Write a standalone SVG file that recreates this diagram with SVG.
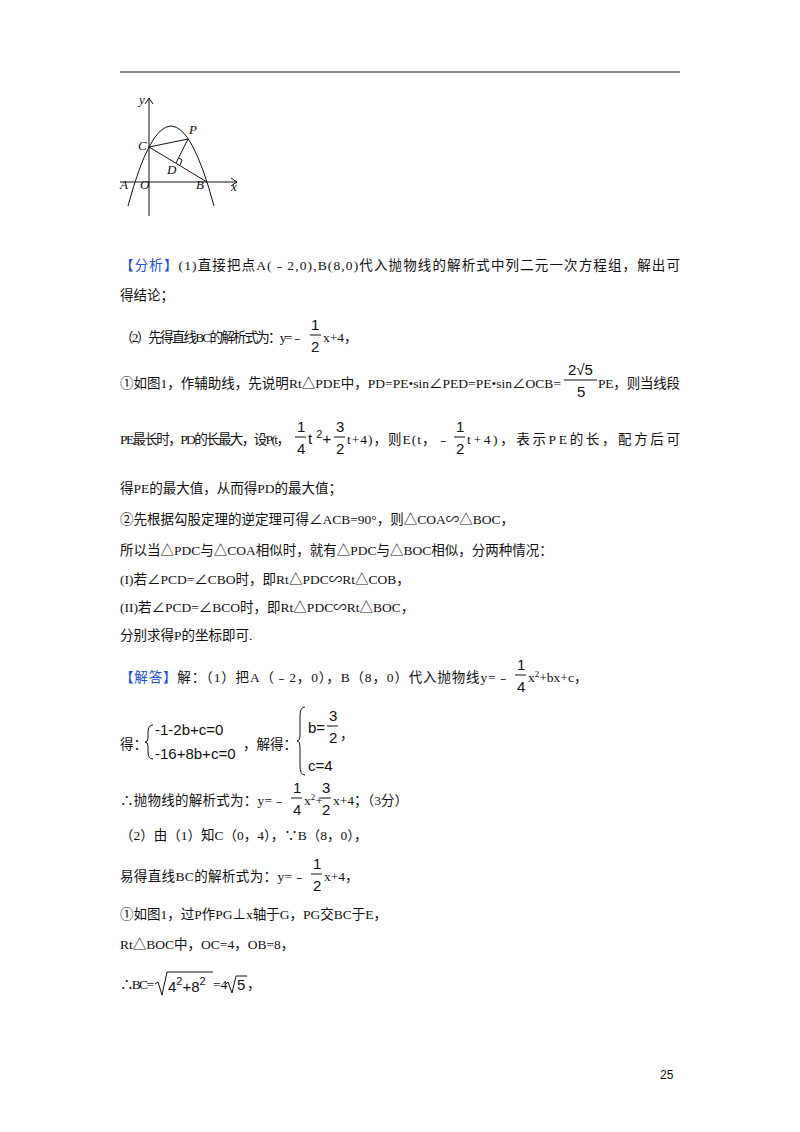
<svg xmlns="http://www.w3.org/2000/svg" width="800" height="1132" viewBox="0 0 800 1132">
<style>
text{font-family:"Liberation Serif","Noto Sans CJK SC",serif;font-size:13.5px;fill:#111}
.b{fill:#1a4fd6}
.m{font-family:"Liberation Sans","Noto Sans CJK SC",sans-serif;font-size:15px}
.g{font-family:"Liberation Serif",serif;font-style:italic;font-size:13px}
.f{stroke:#111;stroke-width:1;fill:none}
</style>
<rect width="800" height="1132" fill="#fff"/>
<line x1="120" y1="72" x2="680" y2="72" stroke="#111" stroke-width="1.2"/>
<g id="graph" class="f">
<line x1="149" y1="216" x2="149" y2="98"/>
<path d="M145,104 L149,98 L153,104"/>
<line x1="120" y1="182" x2="237" y2="182"/>
<path d="M231,178 L237,182 L231,186"/>
<path d="M128,206 Q171,46 214,206"/>
<line x1="149" y1="147" x2="207" y2="182"/>
<line x1="149" y1="147" x2="188" y2="139"/>
<line x1="188" y1="139" x2="176" y2="163"/>
<path d="M179,158 L182,160 L180,165"/>
</g>
<g id="graph-labels">
<text class="g" x="139" y="104">y</text>
<text class="g" x="231" y="191">x</text>
<text class="g" x="120" y="189">A</text>
<text class="g" x="140" y="189">O</text>
<text class="g" x="196" y="189">B</text>
<text class="g" x="138" y="150">C</text>
<text class="g" x="167" y="174">D</text>
<text class="g" x="189" y="134">P</text>
</g>
<text x="120" y="270" textLength="560"><tspan class="b">【分析】</tspan>(1)直接把点A(﹣2,0),B(8,0)代入抛物线的解析式中列二元一次方程组，解出可</text>
<text x="120" y="300">得结论；</text>
<text x="120" y="342" textLength="184">（2）先得直线BC的解析式为：y=﹣</text>
<text class="m" x="311" y="330">1</text><line x1="310" y1="335" x2="321" y2="335" stroke="#111"/><text class="m" x="311" y="352">2</text>
<text x="323" y="342">x+4，</text>
<text x="120" y="388" textLength="441">①如图1，作辅助线，先说明Rt△PDE中，PD=PE•sin∠PED=PE•sin∠OCB=</text>
<text class="m" x="568" y="375">2√5</text><line x1="564" y1="380" x2="597" y2="380" stroke="#111"/><text class="m" x="577" y="397">5</text>
<text x="598" y="388" textLength="82">PE，则当线段</text>
<text x="120" y="444" textLength="170">PE最长时，PD的长最大，设P(t，</text>
<text class="m" x="297" y="432">1</text><line x1="295" y1="437" x2="306" y2="437" stroke="#111"/><text class="m" x="297" y="454">4</text>
<text class="m" x="308" y="444">t <tspan dy="-6" font-size="11">2</tspan><tspan dy="6">+</tspan></text>
<text class="m" x="336" y="432">3</text><line x1="334" y1="437" x2="345" y2="437" stroke="#111"/><text class="m" x="336" y="454">2</text>
<text x="347" y="444" textLength="103">t+4)，则E(t，﹣</text>
<text class="m" x="456" y="432">1</text><line x1="454" y1="437" x2="465" y2="437" stroke="#111"/><text class="m" x="456" y="454">2</text>
<text x="467" y="444" textLength="213">t+4)，表示PE的长，配方后可</text>
<text x="120" y="493">得PE的最大值，从而得PD的最大值；</text>
<text x="120" y="524">②先根据勾股定理的逆定理可得∠ACB=90°，则△COA∽△BOC，</text>
<text x="120" y="555">所以当△PDC与△COA相似时，就有△PDC与△BOC相似，分两种情况：</text>
<text x="120" y="584">(I)若∠PCD=∠CBO时，即Rt△PDC∽Rt△COB，</text>
<text x="120" y="612">(II)若∠PCD=∠BCO时，即Rt△PDC∽Rt△BOC，</text>
<text x="120" y="640">分别求得P的坐标即可.</text>
<text x="120" y="682" textLength="390"><tspan class="b">【解答】</tspan>解：（1）把A（﹣2，0），B（8，0）代入抛物线y=﹣</text>
<text class="m" x="517" y="670">1</text><line x1="515" y1="675" x2="526" y2="675" stroke="#111"/><text class="m" x="517" y="692">4</text>
<text x="528" y="682">x<tspan dy="-5" font-size="9">2</tspan><tspan dy="5">+bx+c，</tspan></text>
<text x="120" y="749">得：</text>
<path class="f" d="M153,725 Q148,725 148,732 L148,738 Q148,742 145,742 Q148,742 148,746 L148,752 Q148,759 153,759"/>
<text class="m" x="155" y="735">-1-2b+c=0</text>
<text class="m" x="155" y="759">-16+8b+c=0</text>
<text x="243" y="749">，解得：</text>
<path class="f" d="M305,707 Q300,707 300,716 L300,734 Q300,741 297,741 Q300,741 300,748 L300,766 Q300,775 305,775"/>
<text class="m" x="308" y="733">b=</text>
<text class="m" x="329" y="721">3</text><line x1="327" y1="726" x2="338" y2="726" stroke="#111"/><text class="m" x="329" y="743">2</text>
<text x="340" y="739">，</text>
<text class="m" x="308" y="771">c=4</text>
<text x="120" y="805" textLength="166">∴抛物线的解析式为：y=﹣</text>
<text class="m" x="293" y="793">1</text><line x1="291" y1="798" x2="302" y2="798" stroke="#111"/><text class="m" x="293" y="815">4</text>
<text x="304" y="805">x<tspan dy="-5" font-size="9">2</tspan><tspan dy="5">+</tspan></text>
<text class="m" x="322" y="793">3</text><line x1="320" y1="798" x2="331" y2="798" stroke="#111"/><text class="m" x="322" y="815">2</text>
<text x="333" y="805">x+4；（3分）</text>
<text x="120" y="840">（2）由（1）知C（0，4），∵B（8，0），</text>
<text x="120" y="881" textLength="186">易得直线BC的解析式为：y=﹣</text>
<text class="m" x="313" y="869">1</text><line x1="311" y1="874" x2="322" y2="874" stroke="#111"/><text class="m" x="313" y="891">2</text>
<text x="324" y="881">x+4，</text>
<text x="120" y="919">①如图1，过P作PG⊥x轴于G，PG交BC于E，</text>
<text x="120" y="949">Rt△BOC中，OC=4，OB=8，</text>
<text x="120" y="989" textLength="34">∴BC=</text>
<path class="f" d="M155,984 L158,982 L162,995 L167,972 L213,972"/>
<text class="m" x="168" y="992">4<tspan dy="-7" font-size="11">2</tspan><tspan dy="7">+8</tspan><tspan dy="-7" font-size="11">2</tspan></text>
<text x="213" y="989">=4</text>
<path class="f" d="M226,984 L228,982 L232,993 L236,976 L247,976"/>
<text class="m" x="237" y="990">5</text>
<text x="247" y="989">，</text>
<text x="660" y="1079" style="font-family:'Liberation Sans',sans-serif;font-size:12px">25</text>
</svg>
